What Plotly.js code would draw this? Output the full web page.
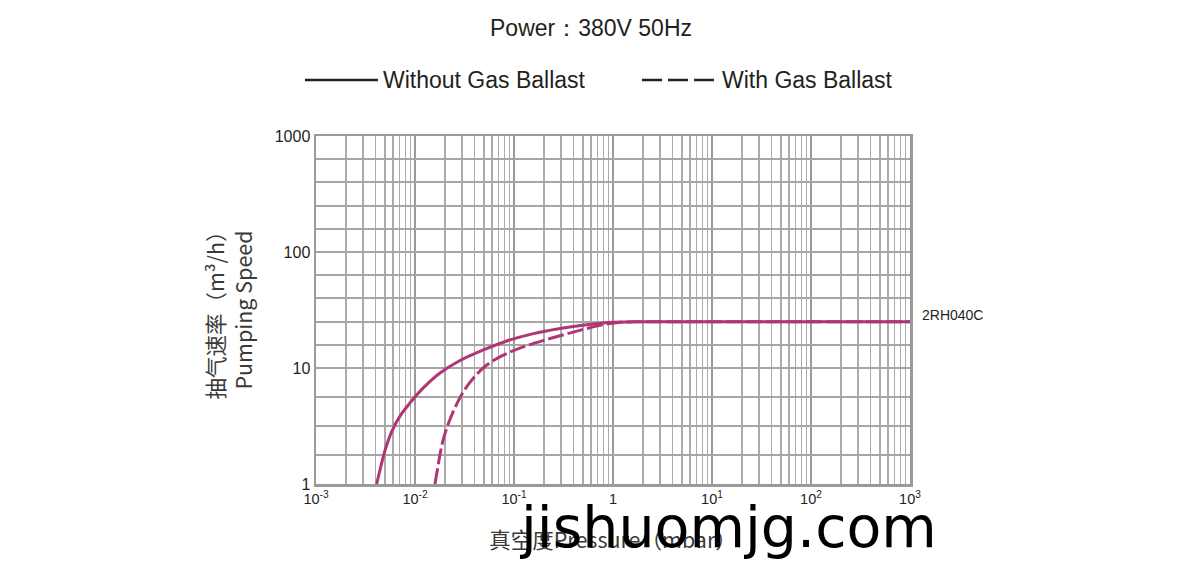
<!DOCTYPE html>
<html>
<head>
<meta charset="utf-8">
<script src="https://cdn.plot.ly/plotly-3.0.1.min.js"></script>
<style>html,body{margin:0;padding:0;background:#fff;}#chart{width:1200px;height:569px;}</style>
</head>
<body>
<div id="chart"></div>
<script>
// Pressure (mbar) and pumping speed (m³/h)
const pressureWithout = [0.0041, 0.00443, 0.00498, 0.00582, 0.00705, 0.0089, 0.01213, 0.0179, 0.0285, 0.049, 0.0843, 0.157, 0.292, 0.542, 1.0, 1.6, 1000];
const speedWithout    = [1, 1.32, 1.95, 2.83, 3.85, 5.0, 6.74, 9.05, 11.6, 14.3, 17.1, 19.8, 21.9, 23.6, 24.8, 25, 25];
const pressureWith    = [0.0159, 0.01681, 0.0179, 0.0193, 0.0217, 0.0254, 0.0308, 0.0388, 0.053, 0.078, 0.124, 0.214, 0.397, 0.74, 1.18, 1.74, 1000];
const speedWith       = [1, 1.32, 1.8, 2.42, 3.3, 4.57, 6.24, 8.17, 10.6, 12.9, 15.2, 17.6, 20.4, 23.3, 24.8, 25, 25];

const xTickVals = [0.001, 0.01, 0.1, 1, 10, 100, 1000];
const xTickText = ['10<sup>-3</sup>', '10<sup>-2</sup>', '10<sup>-1</sup>', '1', '10<sup>1</sup>', '10<sup>2</sup>', '10<sup>3</sup>'];
const yLabelVals = [1, 10, 100, 1000];

const modelName = '2RH040C';
const seriesNames = ['Without Gas Ballast', 'With Gas Ballast'];

// minor x grid (2..9 in each decade)
const xMinor = [];
for (let e = -3; e < 3; e++) for (let m = 2; m <= 9; m++) xMinor.push(m * Math.pow(10, e));
// y grid lines (drawn evenly as in the original sheet)
const yGrid = [];
for (let k = 0; k < 4; k++) yGrid.push(Math.pow(10, k / 4));
for (let k = 0; k <= 10; k++) yGrid.push(Math.pow(10, 1 + k / 5));
const yGridText = yGrid.map(v => {
  const r = Math.round(v);
  return (yLabelVals.includes(r) && Math.abs(v - r) < 1e-6) ? String(r) : '';
});

const lineColor = '#b03575';
const traces = [
  {x: pressureWithout, y: speedWithout, mode: 'lines', name: seriesNames[0], showlegend: false,
   line: {color: lineColor, width: 3, shape: 'spline', smoothing: 1}},
  {x: pressureWith, y: speedWith, mode: 'lines', name: seriesNames[1], showlegend: false,
   line: {color: lineColor, width: 3, shape: 'spline', smoothing: 1, dash: '16px,4px'}}
];

const txtFont = 'Liberation Sans, Arial, sans-serif';
const cjkFont = 'Noto Sans CJK SC, Noto Sans, sans-serif';

const layout = {
  width: 1200, height: 569,
  margin: {l: 316, r: 290, t: 136, b: 85},
  paper_bgcolor: '#fff', plot_bgcolor: '#fff',
  showlegend: false,
  title: {text: 'Power：380V 50Hz', x: 0.4925, xref: 'container', xanchor: 'center',
          y: 1 - 28 / 569, yref: 'container', yanchor: 'middle',
          font: {family: txtFont, size: 23, color: '#231f20'}},
  xaxis: {type: 'log', range: [-3, 3], tickmode: 'array', tickvals: xTickVals, ticktext: xTickText,
          showgrid: true, gridcolor: '#9a9a9a', gridwidth: 2.5,
          minor: {tickmode: 'array', tickvals: xMinor, showgrid: true, gridcolor: '#ababab', gridwidth: 1.5, ticks: ''},
          showline: true, linecolor: '#9a9a9a', linewidth: 2.5, mirror: true,
          ticks: '', zeroline: false,
          tickfont: {family: txtFont, size: 14.5, color: '#231f20'},
          title: {text: '真空度Pressure（mbar）', standoff: 27, font: {family: cjkFont, size: 21.5, color: '#3a3a3a'}}},
  yaxis: {type: 'log', range: [0, 3], tickmode: 'array', tickvals: yGrid, ticktext: yGridText,
          showgrid: true, gridcolor: '#a6a6a6', gridwidth: 2,
          showline: true, linecolor: '#9a9a9a', linewidth: 2.5, mirror: true,
          ticks: '', zeroline: false,
          tickfont: {family: txtFont, size: 16, color: '#231f20'},
          title: {text: '抽气速率（m³/h）<br>Pumping Speed', standoff: 16, font: {family: cjkFont, size: 21.5, color: '#3a3a3a'}}},
  shapes: [
    {type: 'line', xref: 'paper', yref: 'paper', x0: (305 - 316) / 594, x1: (378 - 316) / 594,
     y0: (484 - 80) / 348, y1: (484 - 80) / 348, line: {color: '#231f20', width: 2.5}},
    {type: 'line', xref: 'paper', yref: 'paper', x0: (642 - 316) / 594, x1: (714 - 316) / 594,
     y0: (484 - 80) / 348, y1: (484 - 80) / 348, line: {color: '#231f20', width: 2.5, dash: '20px,6px'}}
  ],
  annotations: [
    {xref: 'paper', yref: 'paper', x: (381 - 316) / 594, y: (484 - 80) / 348, xanchor: 'left', yanchor: 'middle',
     text: seriesNames[0], showarrow: false, font: {family: txtFont, size: 23, color: '#231f20'}},
    {xref: 'paper', yref: 'paper', x: (720 - 316) / 594, y: (484 - 80) / 348, xanchor: 'left', yanchor: 'middle',
     text: seriesNames[1], showarrow: false, font: {family: txtFont, size: 23, color: '#231f20'}},
    {xref: 'paper', yref: 'y', x: (920 - 316) / 594, y: Math.log10(speedWithout[speedWithout.length - 1]),
     xanchor: 'left', yanchor: 'middle', yshift: 7, text: modelName, showarrow: false,
     font: {family: txtFont, size: 14, color: '#231f20'}},
    {xref: 'paper', yref: 'paper', x: (728 - 316) / 594, y: (484 - 527) / 348, xanchor: 'center', yanchor: 'middle',
     text: 'jishuomjg.com', showarrow: false, font: {family: 'DejaVu Sans, sans-serif', size: 57, color: '#000'}}
  ]
};

Plotly.newPlot('chart', traces, layout, {staticPlot: true, displayModeBar: false});
</script>
</body>
</html>
